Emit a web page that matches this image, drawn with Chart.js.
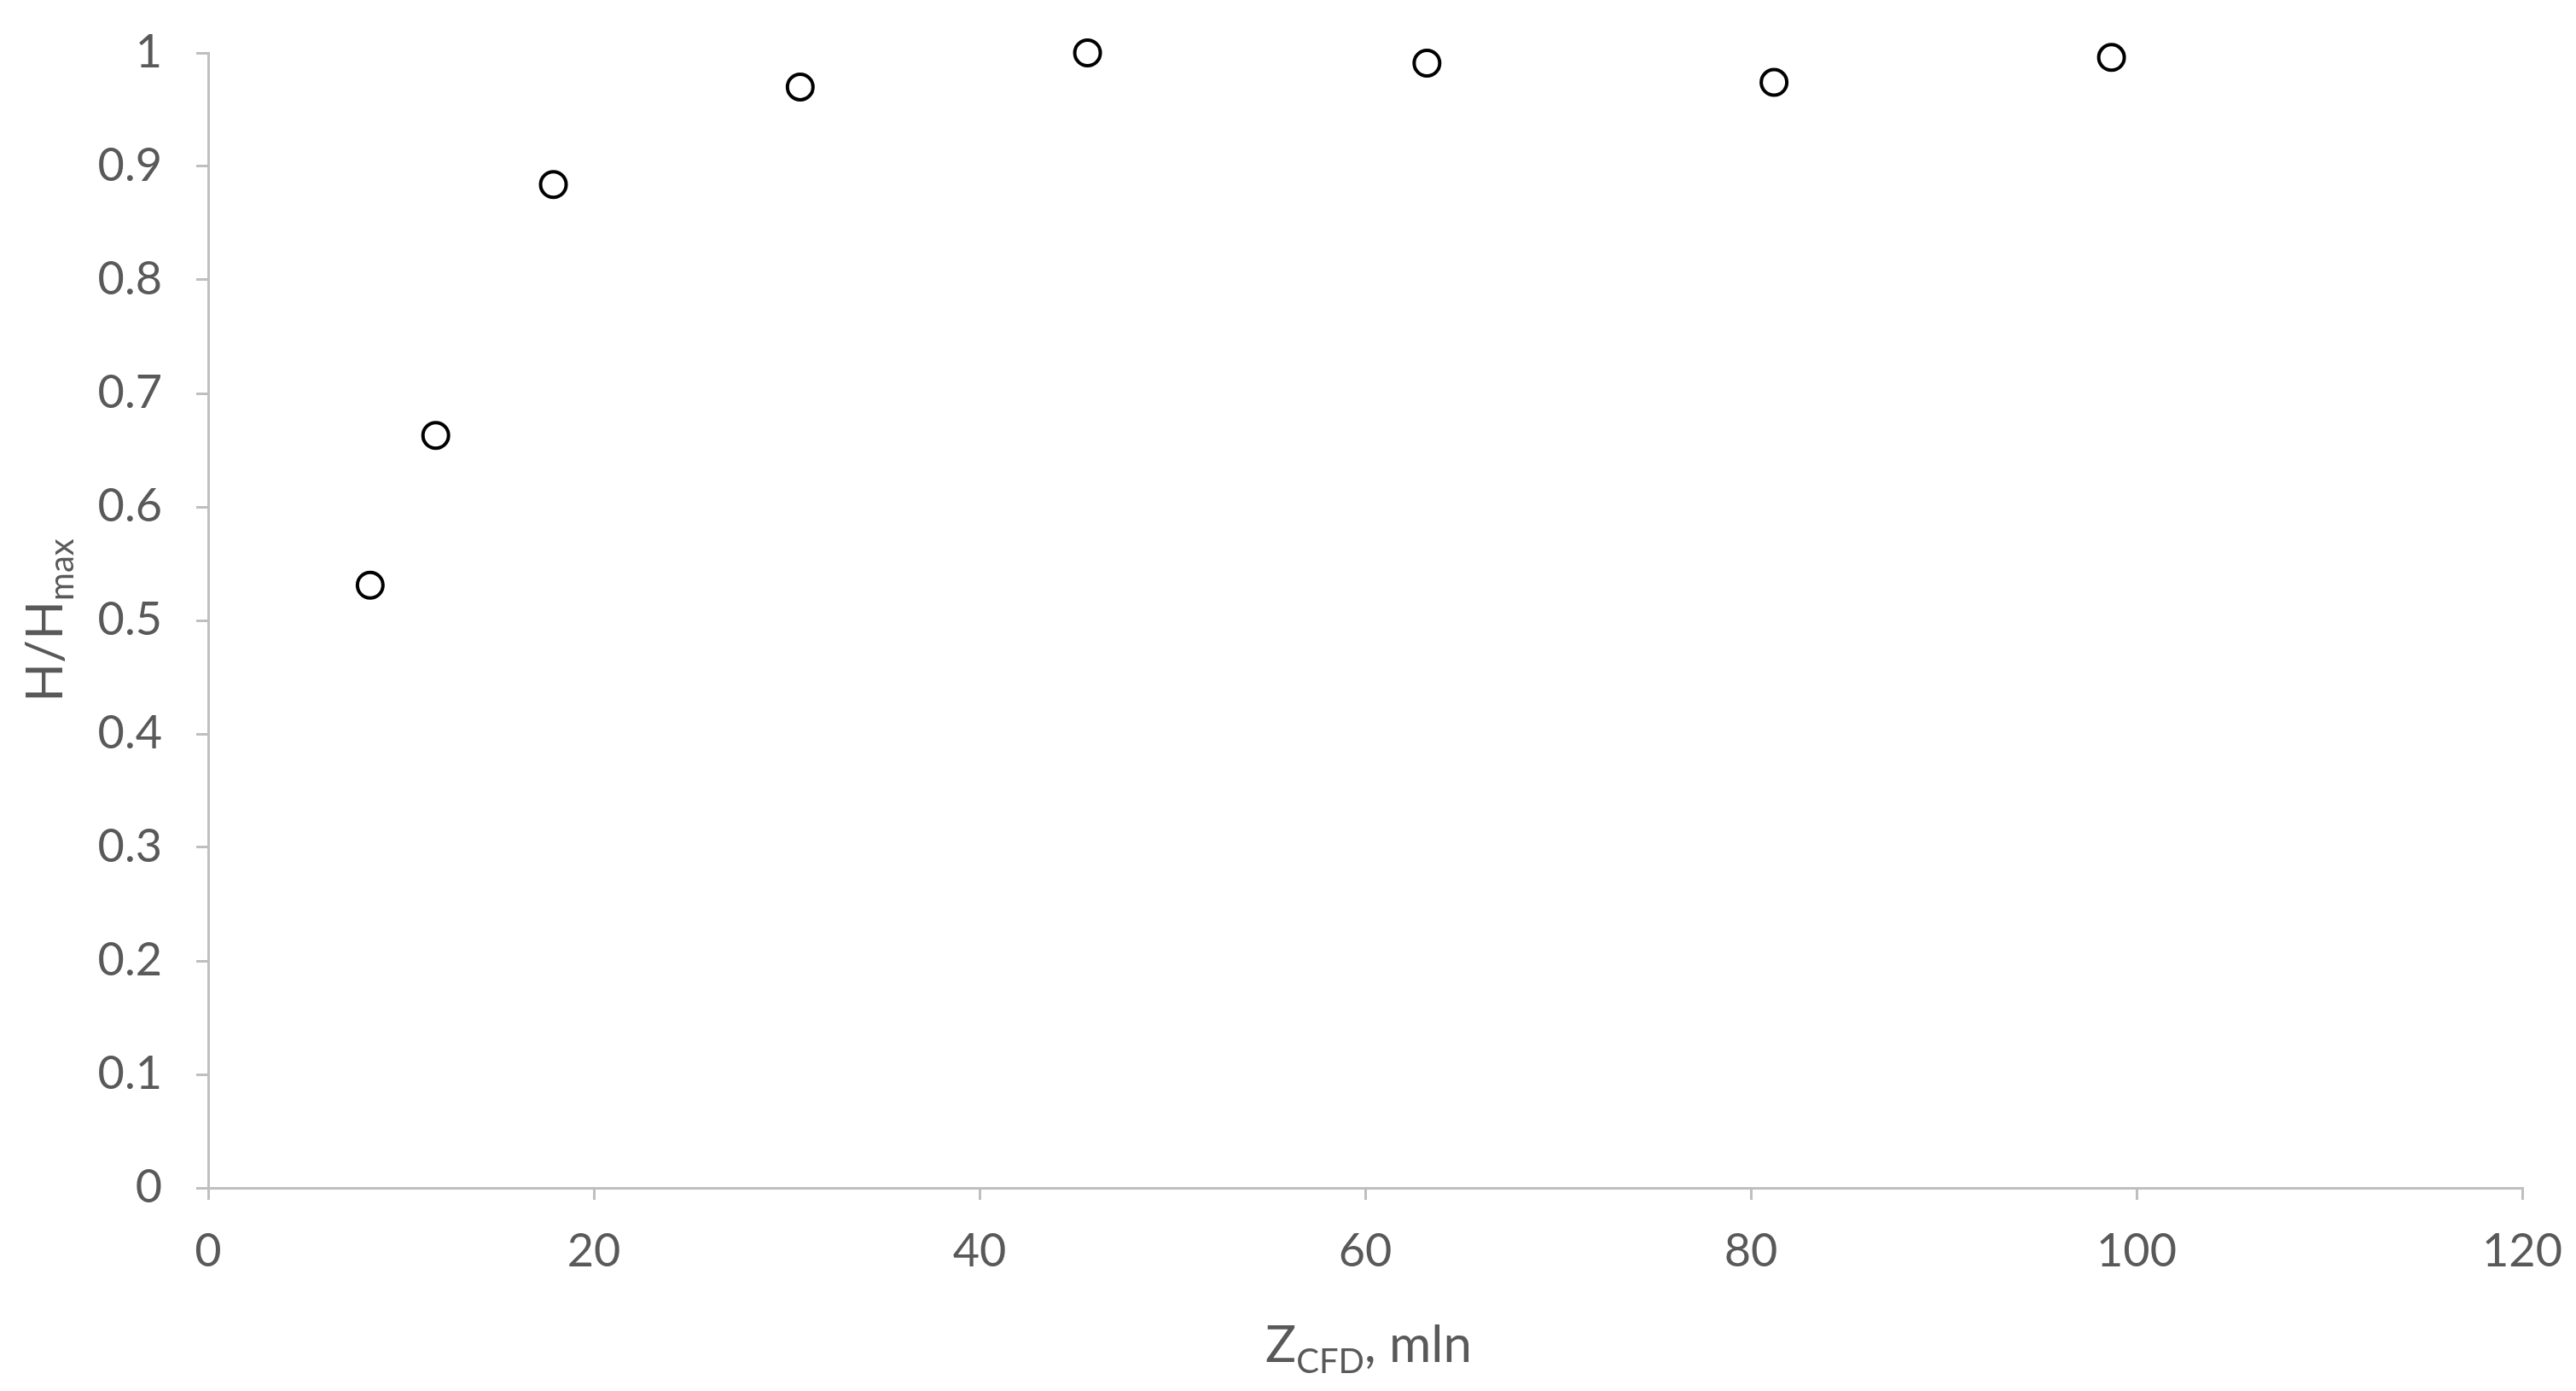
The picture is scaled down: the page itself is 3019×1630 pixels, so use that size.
<!DOCTYPE html>
<html>
<head>
<meta charset="utf-8">
<script src="https://cdn.jsdelivr.net/npm/chart.js@4"></script>
<style>
  html, body { margin: 0; padding: 0; background: #fff; }
  #wrap { width: 3019px; height: 1630px; }
</style>
</head>
<body>
<div id="wrap"><canvas id="myChart" width="3019" height="1630"></canvas></div>
<script>
// data
const zCfd = [8.4, 11.8, 17.9, 30.7, 45.6, 63.2, 81.2, 98.7];      // Z_CFD, mln
const hRatio = [0.531, 0.663, 0.884, 0.970, 1.0, 0.991, 0.974, 0.996]; // H/Hmax
const xTicks = [0, 20, 40, 60, 80, 100, 120];
const yTicks = [0, 0.1, 0.2, 0.3, 0.4, 0.5, 0.6, 0.7, 0.8, 0.9, 1];

const fontName = 'Lato, "Open Sans", sans-serif';
const textColor = '#595959';
const axisColor = '#bfbfbf';

// draws a text with a subscript part, centred on 0,0
function drawSub(ctx, main, sub, after, size) {
    const big = size + 'px ' + fontName;
    const small = Math.round(size * 0.66) + 'px ' + fontName;
    ctx.font = big; const w1 = ctx.measureText(main).width;
    const w3 = ctx.measureText(after).width;
    ctx.font = small; const w2 = ctx.measureText(sub).width;
    let x = -(w1 + w2 + w3) / 2;
    ctx.textBaseline = 'alphabetic';
    ctx.textAlign = 'left';
    ctx.fillStyle = textColor;
    ctx.font = big; ctx.fillText(main, x, size * 0.35); x += w1;
    ctx.font = small; ctx.fillText(sub, x, size * 0.35 + size * 0.22); x += w2;
    ctx.font = big; ctx.fillText(after, x, size * 0.35);
}

const axisTitles = {
    id: 'axisTitles',
    afterDraw(chart) {
        const ctx = chart.ctx;
        const area = chart.chartArea;
        ctx.save();
        ctx.translate((area.left + area.right) / 2 + 4, 1575);
        drawSub(ctx, 'Z', 'CFD', ', mln', 60);
        ctx.restore();
        ctx.save();
        ctx.translate(52, (area.top + area.bottom) / 2);
        ctx.rotate(-Math.PI / 2);
        drawSub(ctx, 'H/H', 'max', '', 60);
        ctx.restore();
    }
};

const chart = document.getElementById('myChart').getContext('2d');
const myChart = new Chart(chart, {
    type: 'scatter',
    data: {
        datasets: [{
            label: 'H/Hmax',
            data: zCfd.map((z, i) => ({ x: z, y: hRatio[i] })),
            pointRadius: 15,
            pointHoverRadius: 15,
            pointBorderWidth: 4,
            borderColor: '#000',
            backgroundColor: '#fff',
            clip: false
        }]
    },
    options: {
        responsive: false,
        animation: false,
        layout: { padding: { left: 0, top: 62, right: 63, bottom: 0 } },
        plugins: {
            legend: { display: false },
            tooltip: { enabled: false }
        },
        scales: {
            x: {
                type: 'linear',
                min: 0, max: 120,
                afterFit(scale) {
                    scale.height = 238;
                    scale.paddingLeft = 0; scale.paddingRight = 0;
                },
                afterBuildTicks(scale) { scale.ticks = xTicks.map(v => ({ value: v })); },
                border: { color: axisColor, width: 3 },
                grid: { drawOnChartArea: false, drawTicks: true, tickLength: 14, color: axisColor, lineWidth: 3 },
                ticks: { color: textColor, font: { family: fontName, size: 54 }, padding: 28, maxRotation: 0,
                         callback: v => String(v) }
            },
            y: {
                type: 'linear',
                min: 0, max: 1,
                afterFit(scale) {
                    scale.width = 244;
                    scale.paddingTop = 0; scale.paddingBottom = 0;
                },
                afterBuildTicks(scale) { scale.ticks = yTicks.map(v => ({ value: v })); },
                border: { color: axisColor, width: 3 },
                grid: { drawOnChartArea: false, drawTicks: true, tickLength: 14, color: axisColor, lineWidth: 3 },
                ticks: { color: textColor, font: { family: fontName, size: 54 }, padding: 40,
                         callback: v => String(v) }
            }
        }
    },
    plugins: [axisTitles]
});
</script>
</body>
</html>
